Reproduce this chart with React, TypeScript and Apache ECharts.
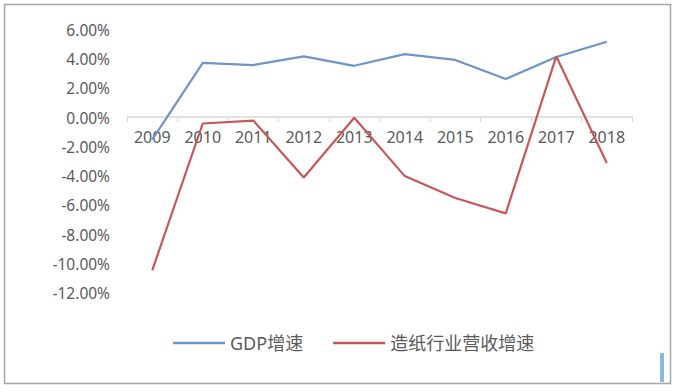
import React, { useEffect, useRef } from "react";
import * as echarts from "echarts";

const years = ["2009", "2010", "2011", "2012", "2013", "2014", "2015", "2016", "2017", "2018"];
const gdpGrowth = [-1.5, 3.75, 3.6, 4.2, 3.55, 4.35, 3.95, 2.65, 4.15, 5.2];
const paperGrowth = [-10.45, -0.4, -0.2, -4.1, 0.0, -4.0, -5.5, -6.55, 4.2, -3.1];
const seriesNames = ["GDP增速", "造纸行业营收增速"];

export default function App() {
  const ref = useRef<HTMLDivElement>(null);
  useEffect(() => {
    if (!ref.current) return;
    const chart = echarts.init(ref.current, null, { renderer: "svg" });
    const font = "'Noto Sans', 'Noto Sans CJK SC', sans-serif";
    chart.setOption({
      animation: false,
      backgroundColor: "#ffffff",
      grid: { left: 127, right: 45, top: 30, bottom: 99 },
      xAxis: {
        type: "category",
        data: years,
        boundaryGap: true,
        position: "bottom",
        offset: -176,
        axisLine: { onZero: false, lineStyle: { color: "#d9d9d9", width: 1.5 } },
        axisTick: { show: true, length: 5, lineStyle: { color: "#d9d9d9" } },
        axisLabel: { color: "#5a5a5a", fontSize: 16, fontFamily: font, margin: 12 },
        splitLine: { show: false },
      },
      yAxis: {
        type: "value",
        min: -12,
        max: 6,
        interval: 2,
        axisLine: { show: false },
        axisTick: { show: false },
        splitLine: { show: false },
        axisLabel: {
          color: "#5a5a5a",
          fontSize: 15.5,
          fontFamily: font,
          margin: 17,
          formatter: (v: number) => v.toFixed(2) + "%",
        },
      },
      legend: {
        left: 168,
        top: 329,
        icon: "rect",
        itemWidth: 52,
        itemHeight: 2.5,
        itemGap: 30,
        textStyle: { color: "#5a5a5a", fontSize: 18, fontFamily: font },
        data: seriesNames,
      },
      graphic: [
        {
          type: "rect",
          shape: { x: 4.5, y: 4.5, width: 666, height: 379 },
          style: { fill: "none", stroke: "#a6a6a6", lineWidth: 1.5 },
          silent: true,
        },
        {
          type: "rect",
          shape: { x: 660, y: 353, width: 4, height: 29 },
          style: { fill: "#8cb8e4" },
          silent: true,
        },
      ],
      series: [
        {
          name: seriesNames[0],
          type: "line",
          data: gdpGrowth,
          symbol: "none",
          lineStyle: { color: "#6f94c8", width: 2.2 },
          itemStyle: { color: "#6f94c8" },
        },
        {
          name: seriesNames[1],
          type: "line",
          data: paperGrowth,
          symbol: "none",
          lineStyle: { color: "#c8575a", width: 2.2 },
          itemStyle: { color: "#c8575a" },
        },
      ],
    });
    return () => chart.dispose();
  }, []);
  return (
    <div
      ref={ref}
      style={{ position: "fixed", left: 0, top: 0, width: 677, height: 392 }}
    />
  );
}
